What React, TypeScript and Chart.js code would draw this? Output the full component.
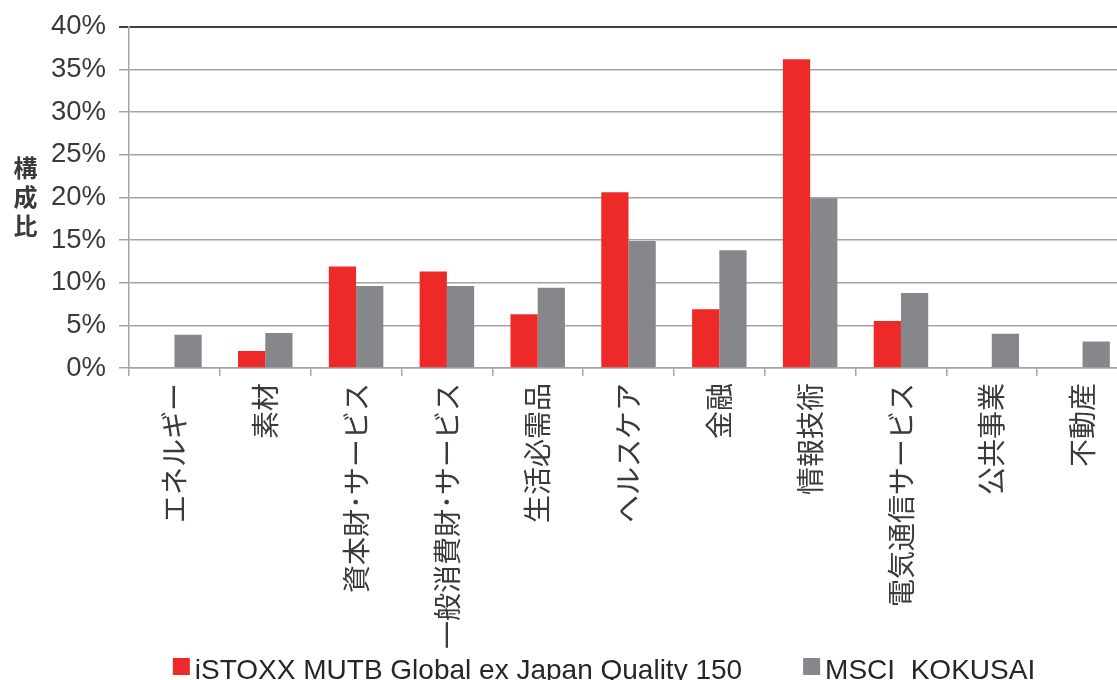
import React, { useEffect, useRef } from "react";
import { Chart, registerables } from "chart.js";

Chart.register(...registerables);

const sectors = [
  "エネルギー",
  "素材",
  "資本財･サービス",
  "一般消費財･サービス",
  "生活必需品",
  "ヘルスケア",
  "金融",
  "情報技術",
  "電気通信サービス",
  "公共事業",
  "不動産",
];

const qualityWeights = [0, 2.0, 11.9, 11.3, 6.3, 20.6, 6.9, 36.2, 5.5, 0, 0];
const kokusaiWeights = [3.9, 4.1, 9.6, 9.6, 9.4, 14.9, 13.8, 19.9, 8.8, 4.0, 3.1];

const seriesNames = ["iSTOXX MUTB Global ex Japan Quality 150", "MSCI  KOKUSAI"];
const seriesColors = ["#ED2A28", "#86878A"];

const yTicks = [0, 5, 10, 15, 20, 25, 30, 35, 40];
const yAxisTitle = ["構", "成", "比"];

const LATIN = "'Liberation Sans', Arial, sans-serif";
const CJK = "'Noto Sans CJK JP', 'Noto Sans', sans-serif";
const TEXT = "#3a3a3a";
const GRID = "#a4a4a7";

// Stacked vertical axis title on the left of the plot.
const axisTitlePlugin = {
  id: "stackedAxisTitle",
  afterDraw(chart: any) {
    const { ctx, chartArea } = chart;
    const mid = (chartArea.top + chartArea.bottom) / 2;
    const step = 29;
    ctx.save();
    ctx.font = `bold 24px ${CJK}`;
    ctx.fillStyle = TEXT;
    ctx.textAlign = "center";
    ctx.textBaseline = "middle";
    yAxisTitle.forEach((ch, i) => {
      ctx.fillText(ch, 25.5, mid + (i - 1) * step);
    });
    ctx.restore();
  },
};

// Horizontal legend along the bottom edge.
const bottomLegendPlugin = {
  id: "bottomLegend",
  afterDraw(chart: any) {
    const { ctx } = chart;
    const font = `28px ${LATIN}`;
    const box = 17;
    const gap = 5;
    const itemGap = 61;
    const centerX = 604;
    const boxTop = 658;
    const baseline = 679;
    ctx.save();
    ctx.font = font;
    const items = chart.data.datasets.map((ds: any) => ({
      label: ds.label as string,
      color: ds.backgroundColor as string,
      w: ctx.measureText(ds.label).width,
    }));
    const total =
      items.reduce((s: number, it: any) => s + box + gap + it.w, 0) +
      itemGap * (items.length - 1);
    let x = centerX - total / 2;
    items.forEach((it: any) => {
      ctx.fillStyle = it.color;
      ctx.fillRect(x, boxTop, box, box);
      ctx.fillStyle = "#262626";
      ctx.textAlign = "left";
      ctx.textBaseline = "alphabetic";
      ctx.fillText(it.label, x + box + gap, baseline);
      x += box + gap + it.w + itemGap;
    });
    ctx.restore();
  },
};

export default function App() {
  const canvasRef = useRef<HTMLCanvasElement | null>(null);

  useEffect(() => {
    if (!canvasRef.current) return;
    const chart = new Chart(canvasRef.current, {
      type: "bar",
      data: {
        labels: sectors,
        datasets: [
          {
            label: seriesNames[0],
            data: qualityWeights,
            backgroundColor: seriesColors[0],
            borderWidth: 0,
          },
          {
            label: seriesNames[1],
            data: kokusaiWeights,
            backgroundColor: seriesColors[1],
            borderWidth: 0,
          },
        ],
      },
      options: {
        responsive: false,
        animation: false,
        events: [],
        layout: { padding: { left: 38, right: 22, top: 21.5, bottom: 36 } },
        datasets: {
          bar: { barPercentage: 1, categoryPercentage: 0.6 },
        },
        plugins: {
          legend: { display: false },
          tooltip: { enabled: false },
          title: { display: false },
        },
        scales: {
          x: {
            grid: {
              display: true,
              drawOnChartArea: false,
              drawTicks: true,
              tickLength: 8,
              color: GRID,
              lineWidth: 1.5,
            },
            border: { display: true, color: GRID, width: 1.5 },
            ticks: {
              minRotation: 90,
              maxRotation: 90,
              autoSkip: false,
              padding: 7,
              color: TEXT,
              font: { family: CJK, size: 28 },
            },
          },
          y: {
            min: 0,
            max: 40,
            afterBuildTicks(scale: any) {
              scale.ticks = yTicks.map((v) => ({ value: v }));
            },
            grid: {
              color: (c: any) => (c.tick && c.tick.value === 40 ? "#404040" : GRID),
              lineWidth: (c: any) => (c.tick && c.tick.value === 40 ? 2 : 1.5),
              tickLength: 10,
            },
            border: { display: true, color: GRID, width: 1.5 },
            ticks: {
              padding: 13,
              color: TEXT,
              font: { family: LATIN, size: 27.5, lineHeight: 1 },
              callback: (v: any) => `${v}%`,
            },
          },
        },
      },
      plugins: [axisTitlePlugin, bottomLegendPlugin],
    });
    return () => chart.destroy();
  }, []);

  return (
    <div
      style={{
        position: "fixed",
        left: 0,
        top: 0,
        width: 1117,
        height: 680,
        overflow: "hidden",
        background: "#fff",
      }}
    >
      <canvas ref={canvasRef} width={1150} height={692} style={{ display: "block" }} />
    </div>
  );
}
